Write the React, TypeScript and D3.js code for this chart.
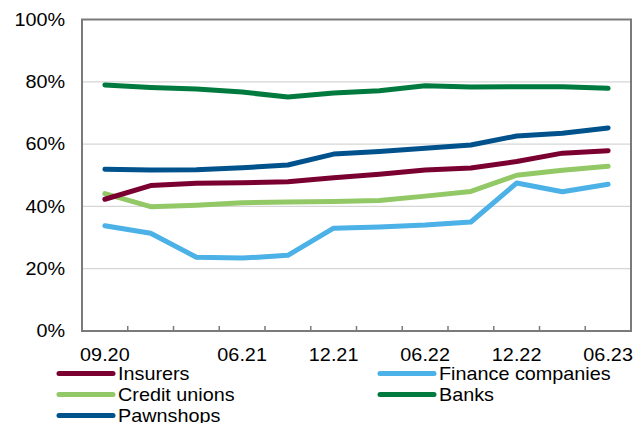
import React from "react";
import * as d3 from "d3";

const categories = ["09.20","12.20","03.21","06.21","09.21","12.21","03.22","06.22","09.22","12.22","03.23","06.23"];
const tickLabels = ["09.20","06.21","12.21","06.22","12.22","06.23"];
const yTicks = [0, 20, 40, 60, 80, 100];

const insurers = [42.3, 46.7, 47.4, 47.6, 47.9, 49.2, 50.3, 51.7, 52.3, 54.4, 57.1, 57.9];
const financeCompanies = [33.8, 31.4, 23.7, 23.4, 24.3, 33.0, 33.4, 34.0, 35.0, 47.5, 44.7, 47.1];
const creditUnions = [44.1, 39.9, 40.4, 41.2, 41.4, 41.6, 41.9, 43.3, 44.8, 50.0, 51.6, 52.9];
const banks = [79.0, 78.2, 77.7, 76.7, 75.1, 76.4, 77.1, 78.7, 78.3, 78.4, 78.4, 77.9];
const pawnshops = [51.9, 51.7, 51.8, 52.4, 53.3, 56.8, 57.6, 58.7, 59.7, 62.6, 63.5, 65.2];

const series = [
  { name: "Insurers", values: insurers, color: "#7b0032" },
  { name: "Finance companies", values: financeCompanies, color: "#4bb1e6" },
  { name: "Credit unions", values: creditUnions, color: "#92c865" },
  { name: "Banks", values: banks, color: "#007a3e" },
  { name: "Pawnshops", values: pawnshops, color: "#00528c" },
];
const drawOrder = ["Finance companies", "Credit unions", "Insurers", "Pawnshops", "Banks"];

const W = 633, H = 423;
const left = 82, right = 631, top = 19.5, bottom = 331;
const FONT = "'Liberation Sans', Arial, sans-serif";
const FS = 18;
const SX = 1.1;

function T({ x, y, anchor, children }: { x: number; y: number; anchor: string; children: React.ReactNode }) {
  return (
    <text
      transform={`translate(${x},${y}) scale(${SX},1)`}
      textAnchor={anchor}
      dominantBaseline="central"
      fontFamily={FONT}
      fontSize={FS}
      fill="#000"
    >
      {children}
    </text>
  );
}

export default function App() {
  const x = d3.scaleBand<string>().domain(categories).range([left, right]);
  const y = d3.scaleLinear().domain([0, 100]).range([bottom, top]);
  const cx = (c: string) => (x(c) as number) + x.bandwidth() / 2;
  const line = d3
    .line<number>()
    .x((_, i) => cx(categories[i]))
    .y((v) => y(v));

  const legendRows = [
    [series[0], series[1]],
    [series[2], series[3]],
    [series[4]],
  ];

  return (
    <svg width={W} height={H} style={{ position: "absolute", left: 0, top: 0, background: "#fff" }}>
      {yTicks.filter((t) => t > 0 && t < 100).map((t) => (
        <line key={t} x1={left} x2={right} y1={y(t)} y2={y(t)} stroke="#d6d6d6" strokeWidth={1.2} />
      ))}
      {categories.slice(1).map((c) => (
        <line key={c} x1={x(c) as number} x2={x(c) as number} y1={bottom} y2={bottom - 5} stroke="#7a7a7a" strokeWidth={1.5} />
      ))}
      <rect x={left} y={top} width={right - left} height={bottom - top} fill="none" stroke="#7a7a7a" strokeWidth={2} />
      {yTicks.map((t) => (
        <T key={t} x={65} y={y(t)} anchor="end">{t}%</T>
      ))}
      {tickLabels.map((c) => (
        <T key={c} x={cx(c)} y={355} anchor="middle">{c}</T>
      ))}
      {drawOrder.map((n) => {
        const s = series.find((q) => q.name === n)!;
        return (
          <path key={n} d={line(s.values) || ""} fill="none" stroke={s.color} strokeWidth={5} strokeLinecap="round" strokeLinejoin="round" />
        );
      })}
      {legendRows.map((row, r) =>
        row.map((s, c) => {
          const lx = c === 0 ? 59 : 380;
          const ly = 373.5 + r * 21;
          return (
            <g key={s.name}>
              <line x1={lx} x2={lx + 54} y1={ly} y2={ly} stroke={s.color} strokeWidth={5} strokeLinecap="round" />
              <T x={lx + 59} y={ly} anchor="start">{s.name}</T>
            </g>
          );
        })
      )}
    </svg>
  );
}
